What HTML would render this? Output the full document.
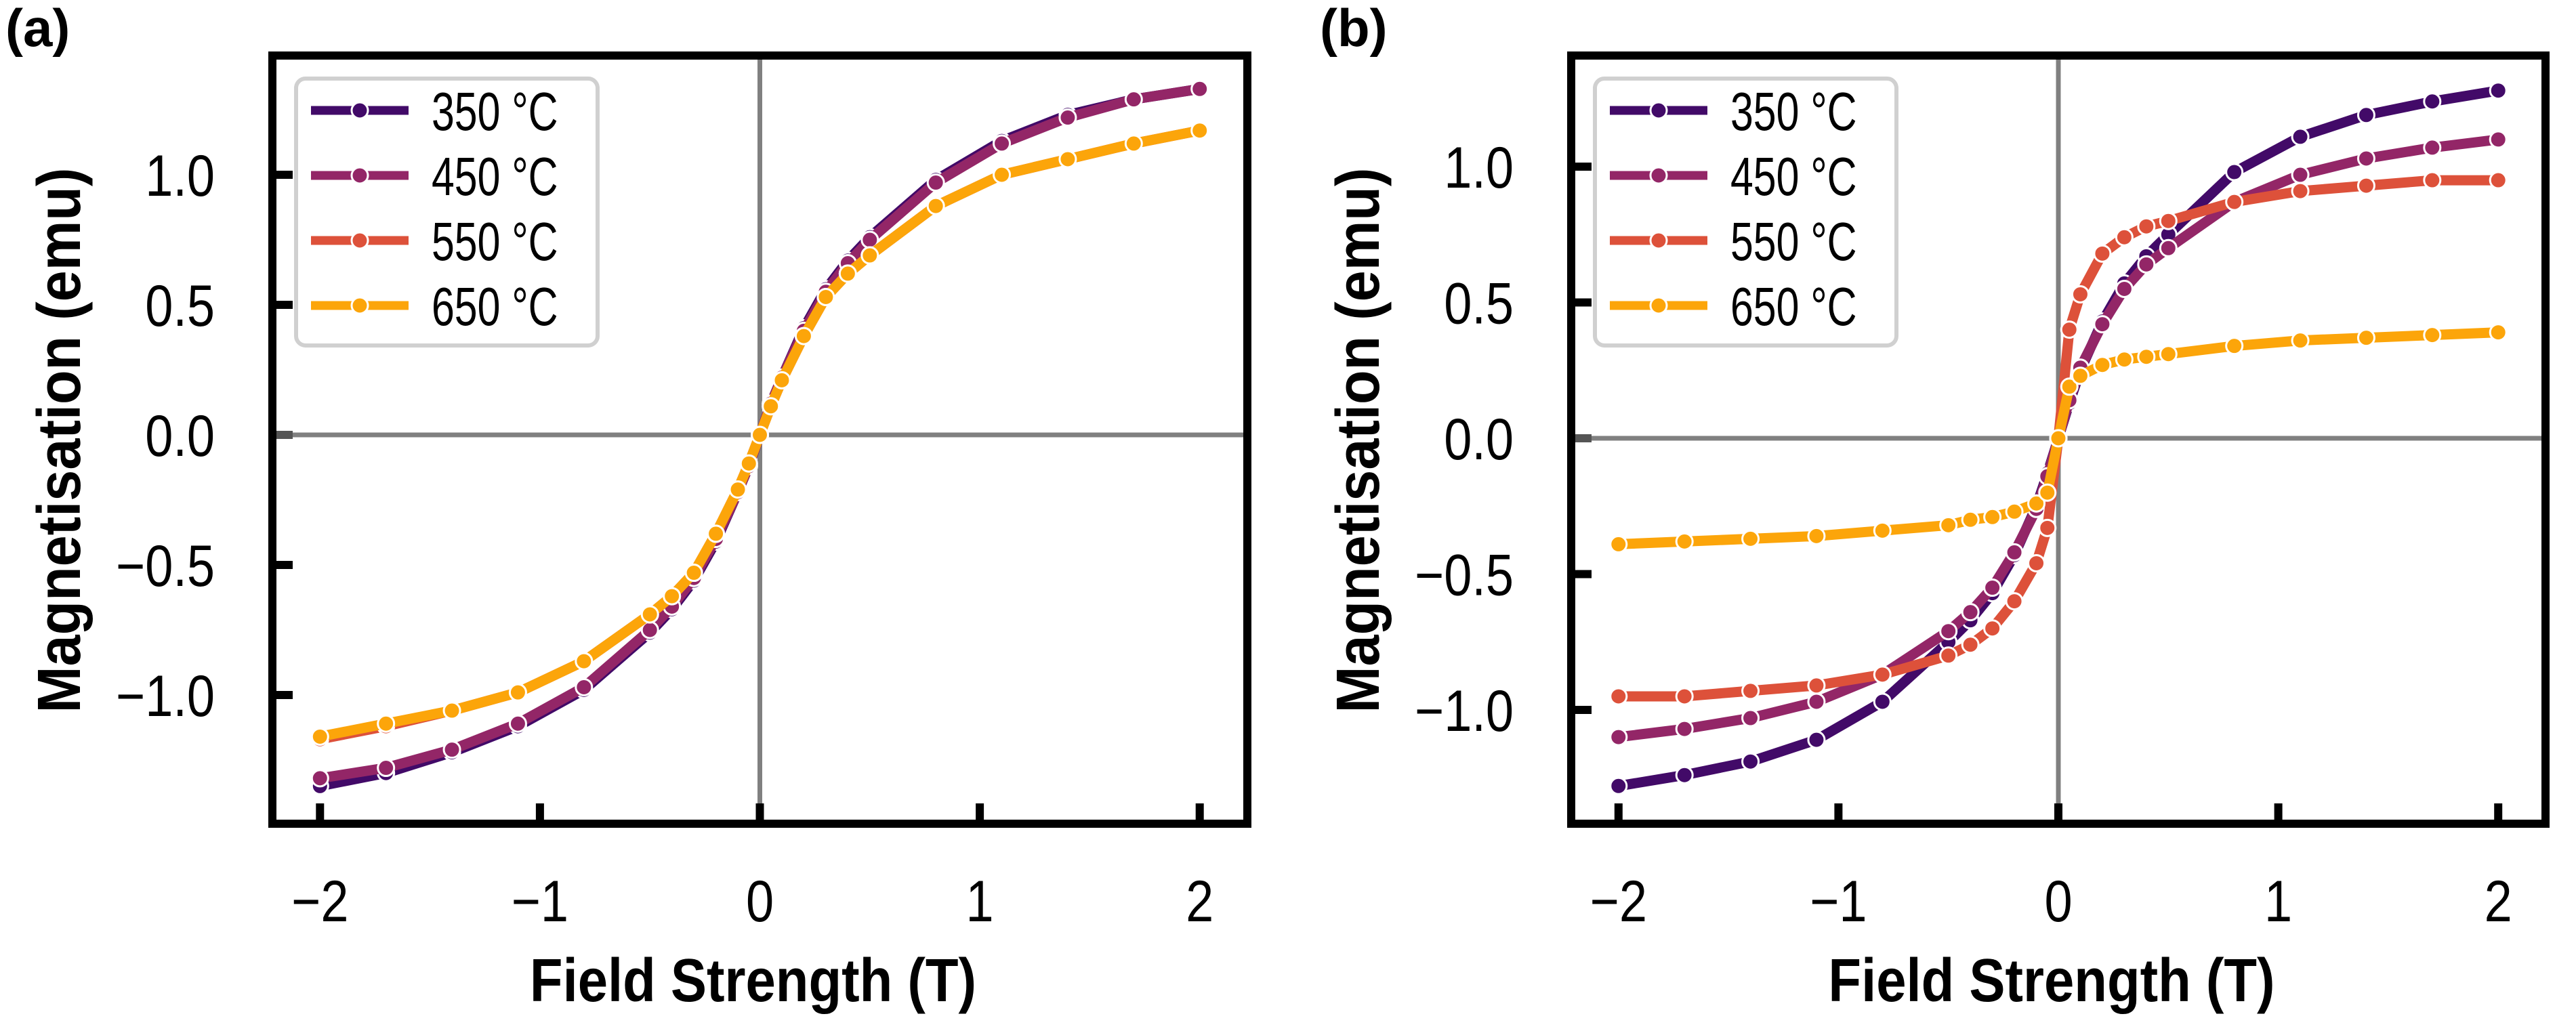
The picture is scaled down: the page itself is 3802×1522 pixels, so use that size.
<!DOCTYPE html>
<html><head><meta charset="utf-8">
<style>
html,body{margin:0;padding:0;background:#fff;}
svg{display:block;}
text{font-family:"Liberation Sans",Arial,sans-serif;}
</style></head>
<body>
<svg id="fig" width="3802" height="1522" viewBox="0 0 3802 1522" xmlns="http://www.w3.org/2000/svg"></svg>
<script>
// Shared field values (T)
const fieldValues = [-2,-1.7,-1.4,-1.1,-0.8,-0.5,-0.4,-0.3,-0.2,-0.1,-0.05,0,0.05,0.1,0.2,0.3,0.4,0.5,0.8,1.1,1.4,1.7,2];
const seriesLabels = ["350 °C","450 °C","550 °C","650 °C"];
const seriesColors = ["#420a68","#932667","#dd513a","#fca50a"];
const xTickValues = [-2,-1,0,1,2];
const xTickLabels = ["\u22122","\u22121","0","1","2"];
const yTickValues = [-1.0,-0.5,0.0,0.5,1.0];
const yTickLabels = ["\u22121.0","\u22120.5","0.0","0.5","1.0"];
// Panel (a) magnetisation (emu)
const a350 = [-1.35,-1.30,-1.22,-1.12,-0.98,-0.76,-0.67,-0.56,-0.41,-0.22,-0.12,0,0.12,0.22,0.41,0.56,0.67,0.76,0.98,1.13,1.23,1.29,1.33];
const a450 = [-1.32,-1.28,-1.21,-1.11,-0.97,-0.75,-0.66,-0.55,-0.40,-0.22,-0.12,0,0.12,0.22,0.40,0.55,0.66,0.75,0.97,1.12,1.22,1.29,1.33];
const a550 = [-1.17,-1.12,-1.06,-0.99,-0.87,-0.69,-0.62,-0.53,-0.38,-0.21,-0.11,0,0.11,0.21,0.38,0.53,0.62,0.69,0.88,1.00,1.06,1.12,1.17];
const a650 = [-1.16,-1.11,-1.06,-0.99,-0.87,-0.69,-0.62,-0.53,-0.38,-0.21,-0.11,0,0.11,0.21,0.38,0.53,0.62,0.69,0.88,1.00,1.06,1.12,1.17];
// Panel (b) magnetisation (emu)
const b350 = [-1.28,-1.24,-1.19,-1.11,-0.97,-0.75,-0.67,-0.57,-0.43,-0.25,-0.13,0,0.13,0.25,0.43,0.57,0.67,0.75,0.98,1.11,1.19,1.24,1.28];
const b450 = [-1.10,-1.07,-1.03,-0.97,-0.87,-0.71,-0.64,-0.55,-0.42,-0.26,-0.14,0,0.14,0.26,0.42,0.55,0.64,0.70,0.87,0.97,1.03,1.07,1.10];
const b550 = [-0.95,-0.95,-0.93,-0.91,-0.87,-0.80,-0.76,-0.70,-0.60,-0.46,-0.33,0,0.40,0.53,0.68,0.74,0.78,0.80,0.87,0.91,0.93,0.95,0.95];
const b650 = [-0.39,-0.38,-0.37,-0.36,-0.34,-0.32,-0.30,-0.29,-0.27,-0.24,-0.20,0,0.19,0.23,0.27,0.29,0.30,0.31,0.34,0.36,0.37,0.38,0.39];

const NS="http://www.w3.org/2000/svg";
const svg=document.getElementById('fig');
function mk(tag,attrs,parent){const e=document.createElementNS(NS,tag);for(const k in attrs)e.setAttribute(k,attrs[k]);(parent||svg).appendChild(e);return e;}
function txt(parent,x,y,str,size,anchor,sx,bold,rot){
  let tr=`translate(${x} ${y})`;
  if(rot)tr+=` rotate(${rot})`;
  tr+=` scale(${sx} 1)`;
  const t=mk('text',{x:0,y:0,'font-size':size,'text-anchor':anchor,fill:'#000',transform:tr},parent);
  if(bold)t.setAttribute('font-weight','bold');
  t.textContent=str;
  return t;
}

function panel(cfg){
  const g=mk('g',{});
  
  
  const L=cfg.left,R=cfg.right,T=82,B=1216;
  const xs=v=>cfg.x0+v*324.6;
  const ys=v=>cfg.y0-v*cfg.yk;
  const zh=mk('line',{x1:L,x2:R,y1:ys(0),y2:ys(0),stroke:'#808080','stroke-width':7},g);
  
  
  const zv=mk('line',{x1:xs(0),x2:xs(0),y1:T,y2:B,stroke:'#808080','stroke-width':7},g);
  
  
  cfg.series.forEach((vals,i)=>{
    const sg=mk('g',{},g);
    
    
    const pts=fieldValues.map((x,j)=>xs(x).toFixed(1)+','+ys(vals[j]).toFixed(1)).join(' ');
    const pl=mk('polyline',{points:pts,fill:'none',stroke:seriesColors[i],'stroke-width':15,'stroke-linejoin':'round'},sg);
    
    
    fieldValues.forEach((x,j)=>{
      const c=mk('circle',{cx:xs(x),cy:ys(vals[j]),r:12,fill:seriesColors[i],stroke:'#fff','stroke-width':3},sg);
      
      
    });
  });
  xTickValues.forEach((v,i)=>{
    const t=mk('line',{x1:xs(v),x2:xs(v),y1:B,y2:B-30,stroke:'#000','stroke-width':12},g);
    
    
    const tx=txt(g,xs(v),1360,xTickLabels[i],86,'middle',0.86,false,0);
    
    
  });
  yTickValues.forEach((v,i)=>{
    const t=mk('line',{x1:L,x2:L+30,y1:ys(v),y2:ys(v),stroke:v===0?'#555':'#000','stroke-width':12},g);
    
    
    const tx=txt(g,L-85,ys(v)+31,yTickLabels[i],86,'end',0.86,false,0);
    
    
  });
  const fr=mk('rect',{x:L,y:T,width:R-L,height:B-T,fill:'none',stroke:'#000','stroke-width':12},g);
  
  
  const lg=mk('g',{},g);
  
  
  const lx=L+35;
  mk('rect',{x:lx,y:116,width:445,height:394,rx:14,fill:'#fff',stroke:'#d0d0d0','stroke-width':6},lg);
  seriesLabels.forEach((lab,i)=>{
    const e=mk('g',{},lg);
    
    
    const y=163+i*96;
    mk('line',{x1:lx+22,x2:lx+166,y1:y,y2:y,stroke:seriesColors[i],'stroke-width':13},e);
    mk('circle',{cx:lx+94,cy:y,r:12,fill:seriesColors[i],stroke:'#fff','stroke-width':3},e);
    txt(e,lx+200,y+29,lab,80,'start',0.76,false,0);
  });
  const xl=txt(g,cfg.x0-10,1478,'Field Strength (T)',90,'middle',0.885,true,0);
  
  
  const yl=txt(g,cfg.ylabX,650,'Magnetisation (emu)',90,'middle',0.92,true,-90);
  
  
  const pl=txt(g,cfg.plX,68,cfg.tag,78,'start',1,true,0);
  
  
}
panel({name:'panel-a',tag:'(a)',left:402,right:1841,x0:1121.5,y0:642,yk:384,series:[a350,a450,a550,a650],ylabX:118,plX:8});
panel({name:'panel-b',tag:'(b)',left:2319,right:3757,x0:3038,y0:647,yk:401,series:[b350,b450,b550,b650],ylabX:2035,plX:1948});
</script>
</body></html>
